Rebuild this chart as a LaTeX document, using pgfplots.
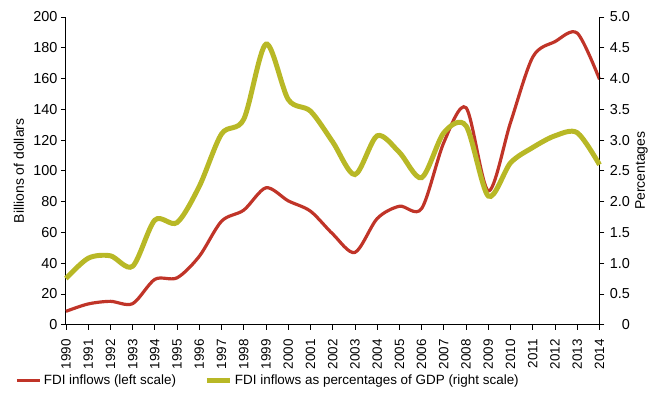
\documentclass[border=0pt]{standalone}
\usepackage{pgfplots}
\pgfplotsset{compat=1.18}
\usepackage{fontspec}
\setmainfont{Liberation Sans}
\definecolor{fdired}{RGB}{192,52,40}
\definecolor{fdiolive}{RGB}{184,184,38}
\begin{document}
\begin{tikzpicture}
\pgfplotsset{every axis/.append style={
  scale only axis, width=534bp, height=308bp,
  xmin=1990, xmax=2014,
  /pgf/number format/assume math mode=true,
  tick style={black, line width=0.8pt},
  axis line style={black, line width=0.9pt},
  tick align=outside, major tick length=5bp,
  font=\fontsize{14}{16}\selectfont,
  tick label style={font=\fontsize{14.5}{16}\selectfont},
}}
\begin{axis}[
  axis x line*=bottom, axis y line*=left,
  ymin=0, ymax=200, ytick={0,20,...,200},
  xtick={1990,...,2014},
  xticklabel style={rotate=90, anchor=east, font=\fontsize{13.5}{16}\selectfont, /pgf/number format/1000 sep={}},
  xticklabel shift=6bp,
  ylabel={Billions of dollars},
  ylabel style={at={(axis description cs:0,0.5)}, anchor=center, yshift=47bp},
  clip=false,
]
\addplot[fdired, line width=3.2pt, smooth, tension=0.5] coordinates {
(1990,8.7) (1991,13.5) (1992,15.2) (1993,13.7) (1994,29.5) (1995,30.5)
(1996,44.5) (1997,67.3) (1998,74.5) (1999,89) (2000,80.5) (2001,73.8)
(2002,59) (2003,47) (2004,69) (2005,77) (2006,75.5) (2007,118.5)
(2008,141) (2009,87) (2010,131.5) (2011,174) (2012,184) (2013,189.5) (2014,159.5)
};
\path (rel axis cs:0,0) ++(-66bp,-82bp);
\path (rel axis cs:1,1) ++(51bp,17bp);
\end{axis}
\begin{axis}[
  axis y line*=right, axis x line=none,
  ymin=0, ymax=5, ytick={0,0.5,...,5},
  yticklabel style={/pgf/number format/fixed, /pgf/number format/fixed zerofill, /pgf/number format/precision=1, text width=22bp, align=right},
  yticklabel={\ifdim\tick pt=0pt 0\else\pgfmathprintnumber{\tick}\fi},
  ylabel={Percentages},
  ylabel style={at={(axis description cs:1,0.5)}, anchor=center, yshift=-42bp},
  legend style={at={(-0.0955,-0.182)}, anchor=west, draw=none, inner sep=0pt, legend columns=2,
    font=\fontsize{13.5}{16}\selectfont,
    nodes={inner sep=2.5bp},
    /tikz/every even column/.append style={column sep=26bp}},
  legend image code/.code={\draw[#1] (0bp,0bp) -- (23bp,0bp);},
  clip=false,
]
\addlegendimage{fdired, line width=3.2pt}
\addlegendentry{FDI inflows (left scale)}
\addplot[fdiolive, line width=5pt, smooth, tension=0.5] coordinates {
(1990,0.75) (1991,1.08) (1992,1.12) (1993,0.95) (1994,1.70) (1995,1.66)
(1996,2.25) (1997,3.1) (1998,3.34) (1999,4.56) (2000,3.66) (2001,3.47)
(2002,2.97) (2003,2.44) (2004,3.07) (2005,2.80) (2006,2.39) (2007,3.12)
(2008,3.23) (2009,2.09) (2010,2.63) (2011,2.88) (2012,3.07) (2013,3.12) (2014,2.6)
};
\addlegendentry{FDI inflows as percentages of GDP (right scale)}
\end{axis}
\end{tikzpicture}
\end{document}
